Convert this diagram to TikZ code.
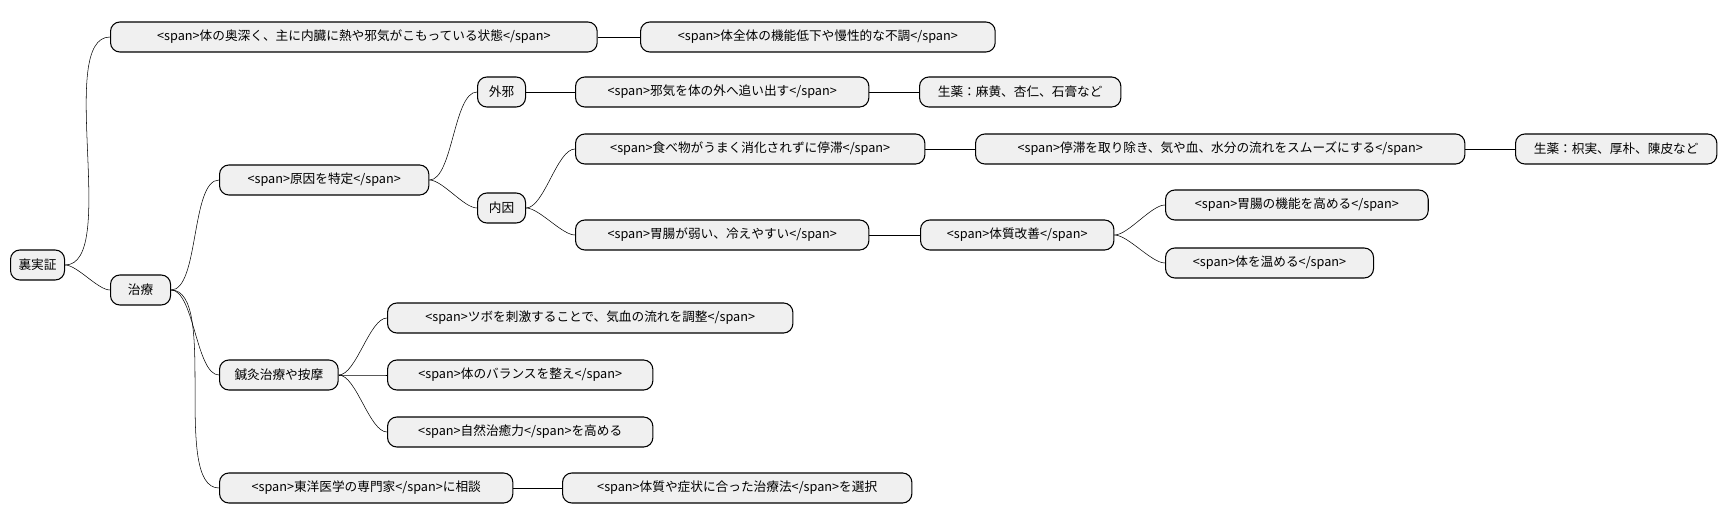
\documentclass[tikz,border=0pt]{standalone}
\usepackage{fontspec}
\setmainfont{Noto Sans CJK JP}
\usetikzlibrary{arrows,positioning}
\begin{document}
\begin{tikzpicture}[x=0.75pt,y=-0.75pt,
    box/.style={draw,thick,rounded corners=7pt,fill=black!6,anchor=west,
                minimum height=22.5pt,inner sep=0pt,font=\fontsize{9.5}{11}\selectfont},
    link/.style={out=0,in=180,looseness=0.6}]
    \useasboundingbox (0,0) rectangle (1727,527);
                  \node[box,minimum width=40.5pt]  (r)   at (10,265)  {裏実証};
                  \node[box,minimum width=365pt]   (a1)  at (110,37)  {<span>体の奥深く、主に内臓に熱や邪気がこもっている状態</span>};
                  \node[box,minimum width=266pt]   (a2)  at (640,37)  {<span>体全体の機能低下や慢性的な不調</span>};
                  \node[box,minimum width=45pt]    (t)   at (110,290) {治療};
                  \node[box,minimum width=157pt]   (c)   at (219,180) {<span>原因を特定</span>};
                  \node[box,minimum width=36pt]    (g)   at (477,92)  {外邪};
                  \node[box,minimum width=220pt]   (g1)  at (575,92)  {<span>邪気を体の外へ追い出す</span>};
                  \node[box,minimum width=151pt]   (g2)  at (919,92)  {生薬：麻黄、杏仁、石膏など};
                  \node[box,minimum width=36pt]    (n)   at (477,208) {内因};
                  \node[box,minimum width=262pt]   (f1)  at (575,149) {<span>食べ物がうまく消化されずに停滞</span>};
                  \node[box,minimum width=367pt]   (f2)  at (975,149) {<span>停滞を取り除き、気や血、水分の流れをスムーズにする</span>};
                  \node[box,minimum width=151pt]   (f3)  at (1515,149){生薬：枳実、厚朴、陳皮など};
                  \node[box,minimum width=220pt]   (w1)  at (575,235) {<span>胃腸が弱い、冷えやすい</span>};
                  \node[box,minimum width=145pt]   (w2)  at (920,235) {<span>体質改善</span>};
                  \node[box,minimum width=197pt]   (w3)  at (1165,205){<span>胃腸の機能を高める</span>};
                  \node[box,minimum width=156pt]   (w4)  at (1165,263){<span>体を温める</span>};
                  \node[box,minimum width=89pt]    (s)   at (219,375) {鍼灸治療や按摩};
                  \node[box,minimum width=304pt]   (s1)  at (387,318) {<span>ツボを刺激することで、気血の流れを調整</span>};
                  \node[box,minimum width=199pt]   (s2)  at (387,375) {<span>体のバランスを整え</span>};
                  \node[box,minimum width=199pt]   (s3)  at (387,432) {<span>自然治癒力</span>を高める};
                  \node[box,minimum width=220pt]   (e)   at (219,488) {<span>東洋医学の専門家</span>に相談};
                  \node[box,minimum width=262pt]   (e1)  at (562,488) {<span>体質や症状に合った治療法</span>を選択};

                      \draw[-, thin]
                               (r.east) edge [link] (a1.west)
                                        edge [link] (t.west)
                               (a1) edge (a2)
                               (t.east) edge [link] (c.west)
                                        edge [link] (s.west)
                                        edge [link] (e.west)
                               (c.east) edge [link] (g.west)
                                        edge [link] (n.west)
                               (g) edge (g1)
                               (g1) edge (g2)
                               (n.east) edge [link] (f1.west)
                                        edge [link] (w1.west)
                               (f1) edge (f2)
                               (f2) edge (f3)
                               (w1) edge (w2)
                               (w2.east) edge [link] (w3.west)
                                         edge [link] (w4.west)
                               (s.east) edge [link] (s1.west)
                                        edge [link] (s2.west)
                                        edge [link] (s3.west)
                               (e) edge (e1);
        \end{tikzpicture}
\end{document}
